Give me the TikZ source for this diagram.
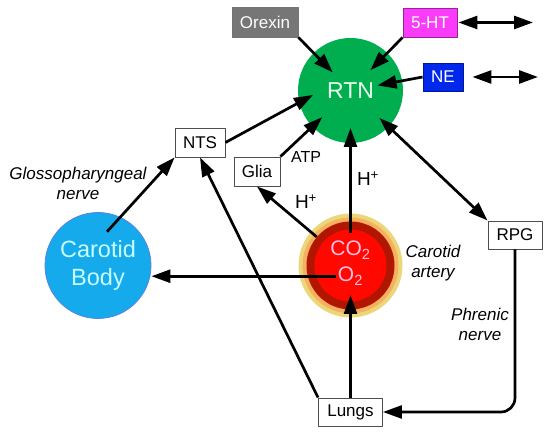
\documentclass[tikz,border=0pt]{standalone}
\usepackage{fontspec}
\setmainfont{Liberation Sans}
\usepackage{xcolor}
\usetikzlibrary{arrows.meta,positioning}
\definecolor{rtngreen}{RGB}{0,174,80}
\definecolor{rtntext}{RGB}{232,255,236}
\definecolor{orexgray}{RGB}{118,118,118}
\definecolor{htpink}{RGB}{250,60,250}
\definecolor{neblue}{RGB}{0,40,235}
\definecolor{bodyblue}{RGB}{20,170,236}
\definecolor{bodyrim}{RGB}{90,130,225}
\definecolor{bodytext}{RGB}{200,255,255}
\definecolor{ringyellow}{RGB}{236,214,122}
\definecolor{ringorange}{RGB}{246,176,96}
\definecolor{blooddark}{RGB}{176,22,0}
\definecolor{bloodred}{RGB}{255,8,0}
\definecolor{gastext}{RGB}{255,190,225}
\tikzset{
  every picture/.style={line join=round, >={Triangle[length=19pt,width=13pt]}},
  box/.style={draw=black!70, line width=0.9pt, fill=white, inner sep=0pt,
    minimum height=29pt, font=\fontsize{17}{20}\selectfont},
  ball/.style={circle, inner sep=0pt, align=center},
  gas/.style={text=gastext, inner sep=2pt, font=\fontsize{21}{24}\selectfont},
  lbl/.style={align=center, inner sep=0pt, font=\fontsize{17}{20}\selectfont\itshape},
  txt/.style={inner sep=0pt, font=\fontsize{16}{19}\selectfont},
  ion/.style={inner sep=0pt, font=\fontsize{19}{22}\selectfont},
  link/.style={line width=2.7pt},
}

\begin{document}
\begin{tikzpicture}[x=1pt,y=1pt]
\useasboundingbox (0,0) rectangle (550,435);
\node[ball, fill=rtngreen, minimum size=105pt, text=rtntext,
  font=\fontsize{23}{26}\selectfont] (rtn) at (350.5,344.5) {RTN};
\node[box, fill=orexgray, draw=black!55, text=white, minimum width=66pt,
  minimum height=30pt] (orexin) at (265,413) {Orexin};
\node[box, fill=htpink, draw=htpink!60!black, text=white, minimum width=54pt] (ht) at (430,412.5) {5-HT};
\node[box, fill=neblue, draw=neblue!60!black, text=white, minimum width=40pt,
  minimum height=28pt] (ne) at (443,358) {NE};
\node[box, minimum width=50pt] (nts) at (200,292.5) {NTS};
\node[box, minimum width=46pt] (glia) at (257,263.5) {Glia};
\node[box, minimum width=54pt, minimum height=28pt] (rpg) at (515,200) {RPG};
\node[box, minimum width=64pt, minimum height=28pt] (lungs) at (350.5,23) {Lungs};
\node[ball, fill=bodyblue, draw=bodyrim, line width=0.8pt, minimum size=106pt,
  text=bodytext, font=\fontsize{23.5}{28}\selectfont] (cbody) at (98,169.5) {Carotid\\Body};
\node[ball, fill=ringyellow, minimum size=104pt] (artery) at (350.5,169.5) {};
\node[ball, fill=ringorange, minimum size=96pt] (ring) at (artery.center) {};
\node[ball, fill=blooddark, minimum size=88pt] (blood) at (artery.center) {};
\node[ball, fill=bloodred, minimum size=72pt] (core) at (artery.center) {};
\node[gas, anchor=base] (co2) at (350.5,179) {CO\textsubscript{2}};
\node[gas, anchor=base] (o2) at (350.5,153) {O\textsubscript{2}};
\node[txt] (atp) at (306,278) {ATP};
\node[ion] (hrtn) at (368,256) {H\textsuperscript{+}};
\node[ion] (hglia) at (306,233) {H\textsuperscript{+}};
\node[lbl] (glosso) at (78,252) {Glossopharyngeal\\nerve};
\node[lbl] (artlbl) at (433,172) {Carotid\\artery};
\node[lbl] (phren) at (480,111) {Phrenic\\nerve};
\coordinate (htend) at (533,412.5);
\coordinate (neend) at (538,358);
\draw[link,->,shorten >=25.5pt] (orexin.south east) -- (rtn.center);
\draw[link,->,shorten >=28.5pt] (ht.south west) -- (rtn.center);
\draw[link,->,shorten >=27.5pt] (ne.west) -- (rtn.center);
\draw[link,<->] ([xshift=1pt]ht.east) -- (htend);
\draw[link,<->] ([xshift=9pt]ne.east) -- (neend);
\draw[link,->] (nts.east) -- ([shift={(186.8:37.8)}]rtn.center);
\draw[link,->,shorten >=39pt] (glia.north east) -- (rtn.center);
\draw[link,->,shorten <=6pt,shorten >=37.5pt] (co2.north) -- (rtn.center);
\draw[link,<->,shorten <=40pt] (rtn.center) -- (rpg.north west);
\draw[link,->] (blood) -- (glia.south);
\draw[link,->] (o2.west) -- (o2.west -| cbody.east);
\draw[link,->] ([shift={(75:35)}]cbody.center) -- (nts.south west);
\draw[link,->] (lungs.north west) -- (nts.south);
\draw[link,->,shorten >=29.5pt] (lungs.north) -- (blood.center);
\draw[link,->,rounded corners=14pt] (rpg.south) |- (lungs.east);
\end{tikzpicture}
\end{document}
